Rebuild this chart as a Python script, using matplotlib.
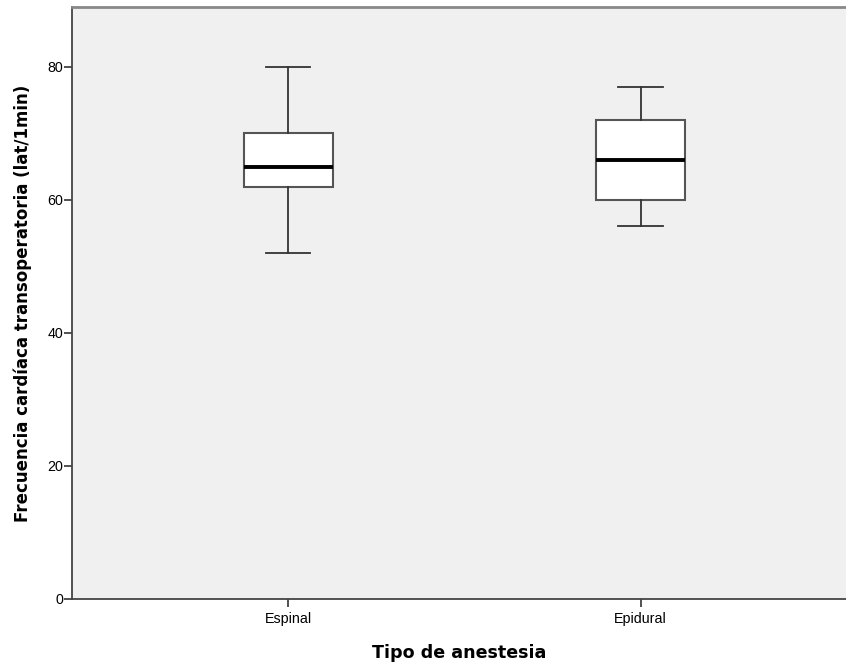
import matplotlib.pyplot as plt

grupos = ["Espinal", "Epidural"]
minimos = [52, 56]
q1 = [62, 60]
medianas = [65, 66]
q3 = [70, 72]
maximos = [80, 77]
y_ticks = [0, 20, 40, 60, 80]

stats = []
for i in range(len(grupos)):
    stats.append({"label": grupos[i], "whislo": minimos[i], "q1": q1[i],
                  "med": medianas[i], "q3": q3[i], "whishi": maximos[i],
                  "fliers": []})

fig = plt.figure(figsize=(8.46, 6.64), dpi=100)
ax = fig.add_axes([0.0851, 0.0979, 0.9149, 0.8916])
ax.set_facecolor("#f0f0f0")

ax.bxp(stats, positions=[1, 2], widths=0.2525, capwidths=0.125,
       patch_artist=True, showfliers=False,
       boxprops=dict(facecolor="white", edgecolor="#555555", linewidth=1.5),
       whiskerprops=dict(color="#333333", linewidth=1.3),
       capprops=dict(color="#333333", linewidth=1.3),
       medianprops=dict(color="black", linewidth=2.8))

ax.set_xlim(0.387, 2.583)
ax.set_ylim(0, 89)
ax.set_yticks(y_ticks)
ax.set_xticks([1, 2])
ax.set_xticklabels(grupos)

for lbl in ax.get_xticklabels() + ax.get_yticklabels():
    lbl.set_fontfamily("Liberation Sans")
    lbl.set_fontsize(10.3)
ax.tick_params(axis="both", length=5.5, width=1.2, color="#333333")
ax.tick_params(axis="y", pad=1)
ax.tick_params(axis="x", pad=4)

ax.spines["right"].set_visible(False)
for s in ["left", "bottom", "top"]:
    ax.spines[s].set_color("#444444")
    ax.spines[s].set_linewidth(1.3)
ax.spines["top"].set_color("#888888")
ax.spines["top"].set_linewidth(2)

ax.set_xlabel("Tipo de anestesia", fontsize=12.6, fontweight="bold", labelpad=13)
ax.set_ylabel("Frecuencia cardíaca transoperatoria (lat/1min)", fontsize=12,
              fontweight="bold", labelpad=11)

fig.savefig("out.png", dpi=100)
